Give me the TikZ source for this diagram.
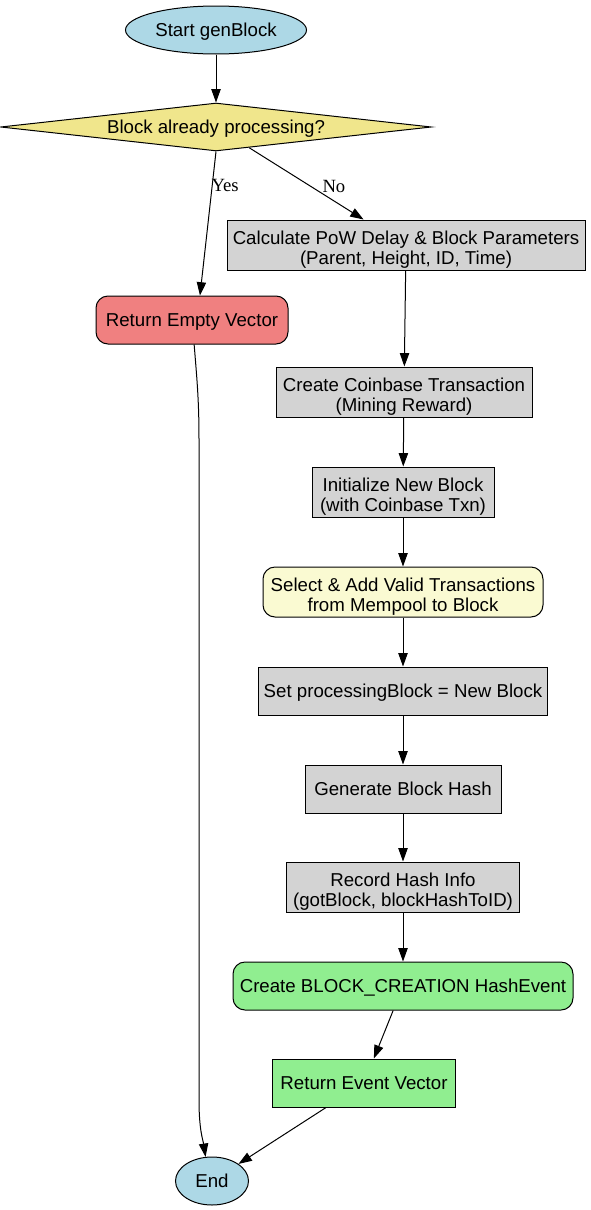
\documentclass[tikz,border=0pt]{standalone}
\usepackage{fontspec}
\setmainfont{Liberation Sans}
\newfontfamily\lblfont{Liberation Serif}
\usetikzlibrary{arrows.meta,shapes.geometric}
\definecolor{termblue}{RGB}{173,216,230}
\definecolor{askkhaki}{RGB}{240,230,140}
\definecolor{stepgray}{RGB}{211,211,211}
\definecolor{failcoral}{RGB}{240,128,128}
\definecolor{pickyellow}{RGB}{250,250,210}
\definecolor{donegreen}{RGB}{144,238,144}
\begin{document}
\begin{tikzpicture}[x=0.75pt,y=-0.75pt,line width=0.75pt,
    font=\fontsize{14}{15}\selectfont,
    >={Triangle[length=10pt,width=7pt]},
    shape base/.style={draw,inner sep=0pt,execute at begin node={\rule[-3pt]{0pt}{15.2pt}}},
    two lines/.style={execute at begin node={\rule[-3pt]{0pt}{35pt}}},
    term/.style={shape base,ellipse,fill=termblue,minimum height=36pt},
    ask/.style={shape base,diamond,fill=askkhaki,aspect=9,minimum width=323pt,minimum height=36pt},
    box/.style={shape base,rectangle,fill=stepgray,align=center,minimum height=37.5pt},
    rbox/.style={box,rounded corners=9pt},
    lbl/.style={font=\lblfont\fontsize{14}{15}\selectfont,inner sep=0pt}]
      \useasboundingbox (0,0) rectangle (590,1210);
      \node[term,minimum width=135.75pt] (start) at (216,30) {Start genBlock};
      \node[ask] (busy) at (216,127) {Block already processing?};
      \node[box,two lines,minimum width=268.5pt] (calc) at (406,245) {Calculate PoW Delay \& Block Parameters\\(Parent, Height, ID, Time)};
      \node[rbox,fill=failcoral,minimum width=144pt,minimum height=36pt] (empty) at (192,320) {Return Empty Vector};
      \node[box,two lines,minimum width=192pt] (coin) at (404,392) {Create Coinbase Transaction\\(Mining Reward)};
      \node[box,two lines,minimum width=136.5pt] (init) at (403,492) {Initialize New Block\\(with Coinbase Txn)};
      \node[rbox,two lines,fill=pickyellow,minimum width=210pt] (pick) at (403,592) {Select \& Add Valid Transactions\\from Mempool to Block};
      \node[box,minimum width=216.75pt,minimum height=36pt] (setpb) at (403,691) {Set processingBlock = New Block};
      \node[box,minimum width=147pt,minimum height=36pt] (hash) at (403,789) {Generate Block Hash};
      \node[box,two lines,minimum width=174.75pt] (rec) at (403,887) {Record Hash Info\\(gotBlock, blockHashToID)};
      \node[rbox,fill=donegreen,minimum width=255pt,minimum height=36pt] (event) at (403,986) {Create BLOCK\_CREATION HashEvent};
      \node[box,fill=donegreen,minimum width=137.25pt,minimum height=36pt] (ret) at (364,1083) {Return Event Vector};
      \node[term,minimum width=54.75pt] (end) at (212,1181) {End};

      \draw[->] (start) -- (busy);
      \draw[->] (busy.south) -- (empty.72);
      \node[lbl,anchor=west] (yes) at (211,185) {Yes};
      \draw[->] (busy.-32) -- (calc.149);
      \node[lbl,anchor=west] (no) at (322,186) {No};
      \draw[->] (calc) -- (coin);
      \draw[->] (coin) -- (init);
      \draw[->] (init) -- (pick);
      \draw[->] (pick) -- (setpb);
      \draw[->] (setpb) -- (hash);
      \draw[->] (hash) -- (rec);
      \draw[->] (rec) -- (event);
      \draw[->] (event) -- (ret);
      \draw[->] (ret) -- (end);
      \coordinate (downA) at (199,440);
      \coordinate (downB) at (199,1100);
      \draw[->] (empty.-85) .. controls (197,380) and (199,400) .. (downA) -- (downB) .. controls (199,1130) and (203,1140) .. (end.105);
\end{tikzpicture}
\end{document}
